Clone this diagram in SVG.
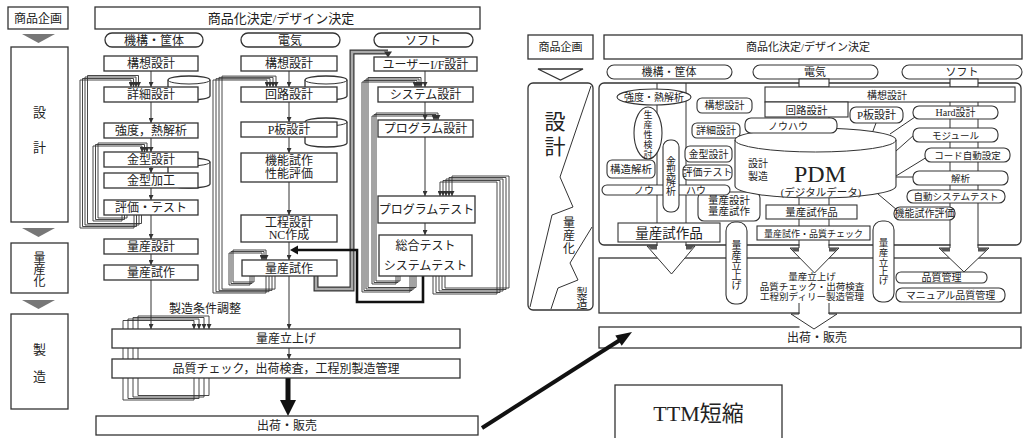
<svg xmlns="http://www.w3.org/2000/svg" width="1026" height="438" viewBox="0 0 1026 438">
<defs>
<style>
.b{fill:#fff;stroke:#333;stroke-width:1.3}
.p{fill:#fff;stroke:#333;stroke-width:1.1}
.l{fill:none;stroke:#333;stroke-width:1}
.f{fill:none;stroke:#333;stroke-width:1;marker-end:url(#ar)}
.s{fill:none;stroke:#333;stroke-width:0.9;marker-end:url(#ar)}
.w{fill:#fff;stroke:none}
.tri{fill:#777}
.sh{fill:#555}
text{font-family:"Liberation Serif","Noto Sans CJK JP",serif;fill:#222;text-anchor:middle}
.t13{font-size:13px}.t12{font-size:12px}.t11{font-size:11px}.t10{font-size:10px}.t9{font-size:9.5px}
</style>
<marker id="ar" viewBox="0 0 8 8" refX="8" refY="4" markerWidth="5" markerHeight="5" markerUnits="userSpaceOnUse" orient="auto"><path d="M0,0L8,4L0,8z" fill="#333"/></marker>
</defs>
<rect x="0" y="0" width="1026" height="438" fill="#fff"/>

<!-- ===== LEFT DIAGRAM ===== -->
<g id="l-phase">
<rect class="b" x="8" y="7" width="60" height="22"/><text class="t12" x="38" y="22.5">商品企画</text>
<polygon class="tri" points="22,34 55,34 38.5,43"/>
<rect class="b" x="11" y="47" width="57" height="175"/><text class="t13" x="39.5" y="117">設</text><text class="t13" x="39.5" y="152">計</text>
<polygon class="tri" points="22,228 55,228 38.5,237"/>
<rect class="b" x="11" y="243" width="57" height="50"/><text class="t12" x="39.5" y="262">量</text><text class="t12" x="39.5" y="274">産</text><text class="t12" x="39.5" y="286">化</text>
<polygon class="tri" points="22,300 55,300 38.5,309"/>
<rect class="b" x="11" y="314" width="57" height="95"/><text class="t13" x="39.5" y="354">製</text><text class="t13" x="39.5" y="381">造</text>
</g>

<g id="connectors-left">
<line class="f" x1="151" y1="71" x2="151" y2="87"/>
<line class="f" x1="151" y1="102" x2="151" y2="123"/>
<line class="f" x1="151" y1="138" x2="151" y2="152"/>
<line class="f" x1="151" y1="167" x2="151" y2="173"/>
<line class="f" x1="151" y1="188" x2="151" y2="200"/>
<line class="f" x1="151" y1="215" x2="151" y2="239"/>
<line class="f" x1="151" y1="254" x2="151" y2="265"/>
<line class="f" x1="151" y1="280" x2="151" y2="329"/>
<line class="f" x1="289" y1="71" x2="289" y2="87"/>
<line class="f" x1="289" y1="102" x2="289" y2="122"/>
<line class="f" x1="289" y1="137" x2="289" y2="153"/>
<line class="f" x1="289" y1="182" x2="289" y2="215"/>
<line class="f" x1="289" y1="242" x2="289" y2="260"/>
<line class="f" x1="289" y1="276" x2="289" y2="329"/>
<line class="f" x1="289" y1="348" x2="289" y2="359"/>
<line class="f" x1="425" y1="71" x2="425" y2="87"/>
<line class="f" x1="425" y1="102" x2="425" y2="120"/>
<line class="f" x1="425" y1="137" x2="425" y2="196"/>
<line class="f" x1="425" y1="223" x2="425" y2="235"/>
<!-- stack A -->
<polyline class="s" points="134,215 134,228 80,228 80,80 131,80 131,87"/>
<polyline class="s" points="136.5,215 136.5,226.5 82.5,226.5 82.5,78.5 133.5,78.5 133.5,87"/>
<polyline class="s" points="139,215 139,225 85,225 85,77 136,77 136,87"/>
<polyline class="s" points="141.5,215 141.5,223.5 87.5,223.5 87.5,75.5 138.5,75.5 138.5,87"/>
<!-- stack B -->
<polyline class="s" points="122,215 122,221 93,221 93,146 142,146 142,152"/>
<polyline class="s" points="124.5,215 124.5,219.5 95.5,219.5 95.5,144.5 144.5,144.5 144.5,152"/>
<polyline class="s" points="127,215 127,218 98,218 98,143 147,143 147,152"/>
<!-- stack C -->
<polyline class="s" points="266,276 266,293 213,293 213,80 267,80 267,87"/>
<polyline class="s" points="269,276 269,291.7 216,291.7 216,78.7 270,78.7 270,87"/>
<polyline class="s" points="272,276 272,290.4 219,290.4 219,77.4 273,77.4 273,87"/>
<polyline class="s" points="275,276 275,289.1 222,289.1 222,76.1 276,76.1 276,87"/>
<!-- stack D -->
<polyline class="s" points="250,276 250,285 229,285 229,253 262,253 262,260"/>
<polyline class="s" points="252,276 252,283.5 231,283.5 231,251.5 264,251.5 264,260"/>
<polyline class="s" points="254,276 254,282 233,282 233,250 266,250 266,260"/>
<!-- stack E (double) -->
<polyline points="316,276 316,289 352,289 352,52 388,52" fill="none" stroke="#333" stroke-width="5"/>
<polyline points="316,276 316,289 352,289 352,52 388,52" fill="none" stroke="#aaa" stroke-width="2.6"/>
<polygon points="384,51.5 392,51.5 388,57.5" fill="#333"/>
<!-- stack F -->
<polyline class="s" points="410,276 410,292 362,292 362,82 415,82 415,87"/>
<polyline class="s" points="412,276 412,290.5 364,290.5 364,80.5 417,80.5 417,87"/>
<polyline class="s" points="414,276 414,289 366,289 366,79 419,79 419,87"/>
<polyline class="s" points="416,276 416,287.5 368,287.5 368,77.5 421,77.5 421,87"/>
<!-- stack G -->
<polyline class="s" points="396,276 396,284 372,284 372,116 434,116 434,120"/>
<polyline class="s" points="398,276 398,282.5 374,282.5 374,114.5 436,114.5 436,120"/>
<polyline class="s" points="400,276 400,281 376,281 376,113 438,113 438,120"/>
<!-- stack H -->
<polyline class="s" points="433,276 433,294 497,294 497,182 440,182 440,196"/>
<polyline class="s" points="436,276 436,292.5 500,292.5 500,180.5 443,180.5 443,196"/>
<polyline class="s" points="439,276 439,291 503,291 503,179 446,179 446,196"/>
<polyline class="s" points="442,276 442,289.5 506,289.5 506,177.5 449,177.5 449,196"/>
<polyline class="s" points="445,276 445,288 509,288 509,176 452,176 452,196"/>
<!-- thick feedback -->
<polyline points="423,276 423,302 357,302 357,250 297,250" fill="none" stroke="#111" stroke-width="2.6"/>
<polygon points="298,245.5 298,254.5 290,250" fill="#111"/>
<!-- stack I -->
<polyline class="s" points="194,378 194,400 123,400 123,320.5 194,320.5 194,329"/>
<polyline class="s" points="199,378 199,398.5 128,398.5 128,319 199,319 199,329"/>
<polyline class="s" points="204,378 204,397 133,397 133,317.5 204,317.5 204,329"/>
<polyline class="s" points="209,378 209,395.5 138,395.5 138,316 209,316 209,329"/>
<text class="t12" x="205" y="313">製造条件調整</text>
<!-- bold arrow -->
<rect x="285.5" y="378" width="5" height="23" fill="#111"/>
<polygon points="280,400 296,400 288,416" fill="#111"/>
</g>

<g id="l-top"><rect class="b" x="95" y="7" width="385" height="22"/><text class="t13" x="281" y="23">商品化決定/デザイン決定</text></g>
<g id="l-h1"><rect class="b" x="105" y="33" width="98" height="14" rx="7"/><text class="t12" x="154" y="44.5">機構・筐体</text></g>
<g id="l-h2"><rect class="b" x="241" y="33" width="99" height="14" rx="7"/><text class="t12" x="290" y="44.5">電気</text></g>
<g id="l-h3"><rect class="b" x="374" y="33" width="99" height="14" rx="7"/><text class="t12" x="423" y="44.5">ソフト</text></g>

<g id="l-cyl1"><path class="b" d="M168,80A21,4 0 0 1 210,80V96A21,4 0 0 1 168,96Z"/><path class="l" d="M168,80A21,4 0 0 0 210,80"/></g>
<g id="l-cyl2"><path class="b" d="M168,162A21,4 0 0 1 210,162V184A21,4 0 0 1 168,184Z"/><path class="l" d="M168,162A21,4 0 0 0 210,162"/></g>
<g id="l-cyl3"><path class="b" d="M305,80A21,4 0 0 1 347,80V96A21,4 0 0 1 305,96Z"/><path class="l" d="M305,80A21,4 0 0 0 347,80"/></g>
<g id="l-cyl4"><path class="b" d="M305,122A21,4 0 0 1 347,122V143A21,4 0 0 1 305,143Z"/><path class="l" d="M305,122A21,4 0 0 0 347,122"/></g>

<g id="m1"><rect class="b" x="104" y="56" width="94" height="15"/><text class="t12" x="151" y="68">構想設計</text></g>
<g id="m2"><rect class="b" x="104" y="87" width="94" height="15"/><text class="t12" x="151" y="99">詳細設計</text></g>
<g id="m3"><rect class="b" x="104" y="123" width="94" height="15"/><text class="t12" x="151" y="135">強度，熱解析</text></g>
<g id="m4"><rect class="b" x="104" y="152" width="94" height="15"/><text class="t12" x="151" y="164">金型設計</text></g>
<g id="m5"><rect class="b" x="104" y="173" width="94" height="15"/><text class="t12" x="151" y="185">金型加工</text></g>
<g id="m6"><rect class="b" x="104" y="200" width="94" height="15"/><text class="t12" x="151" y="212">評価・テスト</text></g>
<g id="m7"><rect class="b" x="104" y="239" width="94" height="15"/><text class="t12" x="151" y="251">量産設計</text></g>
<g id="m8"><rect class="b" x="104" y="265" width="94" height="15"/><text class="t12" x="151" y="277">量産試作</text></g>

<g id="e1"><rect class="b" x="241" y="56" width="96" height="15"/><text class="t12" x="289" y="68">構想設計</text></g>
<g id="e2"><rect class="b" x="241" y="87" width="96" height="15"/><text class="t12" x="289" y="99">回路設計</text></g>
<g id="e3"><rect class="b" x="241" y="122" width="96" height="15"/><text class="t12" x="289" y="134">P板設計</text></g>
<g id="e4"><rect class="b" x="241" y="153" width="96" height="29"/><text class="t12" x="289" y="165">機能試作</text><text class="t12" x="289" y="178">性能評価</text></g>
<g id="e5"><rect class="b" x="241" y="215" width="96" height="27"/><text class="t12" x="289" y="227">工程設計</text><text class="t12" x="289" y="239">NC作成</text></g>
<g id="e6"><rect class="b" x="242" y="260" width="95" height="16"/><text class="t12" x="289" y="272.5">量産試作</text></g>

<g id="s1"><rect class="b" x="374" y="57" width="103" height="14"/><text class="t12" x="425.5" y="68.5">ユーザーI/F設計</text></g>
<g id="s2"><rect class="b" x="378" y="87" width="95" height="15"/><text class="t12" x="425.5" y="99">システム設計</text></g>
<g id="s3"><rect class="b" x="378" y="120" width="95" height="17"/><text class="t12" x="425.5" y="133">プログラム設計</text></g>
<g id="s4"><rect class="b" x="378" y="196" width="97" height="27"/><text class="t12" x="426.5" y="214">プログラムテスト</text></g>
<g id="s5"><rect class="b" x="379" y="235" width="93" height="41"/><text class="t12" x="425.5" y="250">総合テスト</text><text class="t12" x="425.5" y="270">システムテスト</text></g>

<g id="l-ramp"><rect class="b" x="112" y="329" width="348" height="19"/><text class="t12" x="286" y="343">量産立上げ</text></g>
<g id="l-qc"><rect class="b" x="112" y="359" width="348" height="19"/><text class="t12" x="286" y="373">品質チェック，出荷検査，工程別製造管理</text></g>
<g id="l-ship"><rect class="b" x="96" y="416" width="382" height="19"/><text class="t12" x="287" y="430">出荷・販売</text></g>

<!-- ===== RIGHT DIAGRAM ===== -->
<g id="r-plan"><rect class="b" x="528" y="35" width="65" height="24"/><text class="t11" x="560.5" y="51">商品企画</text>
<polygon class="b" points="538,69 583,69 560.5,80"/></g>
<g id="r-top"><rect class="b" x="604" y="35" width="418" height="24"/><text class="t11" x="808" y="51">商品化決定/デザイン決定</text></g>
<g id="r-phase"><rect class="b" x="528" y="83" width="65" height="227" rx="5"/>
<polyline class="l" points="591,86 560,177 573,207 552,215 530,307"/>
<polyline class="l" points="592,227 570,263 578,280 558,288 551,309"/>
<text x="555" y="129" font-size="21">設</text><text x="555" y="154" font-size="21">計</text>
<text class="t12" x="569" y="227">量</text><text class="t12" x="569" y="240">産</text><text class="t12" x="569" y="253">化</text>
<text class="t11" x="582" y="297">製</text><text class="t11" x="582" y="308">造</text></g>

<g id="r-design-region"><rect class="b" x="599" y="83" width="422" height="162" rx="5"/></g>
<g id="r-mfg-region"><rect class="b" x="599" y="258" width="422" height="55"/>
<text class="t9" x="812" y="280">量産立上げ</text><text class="t9" x="812" y="290">品質チェック・出荷検査</text><text class="t9" x="812" y="300">工程別ディリー製造管理</text></g>
<g id="r-ship"><rect class="b" x="599" y="327" width="422" height="21"/><text class="t12" x="817" y="342">出荷・販売</text></g>

<g id="connectors-right">
<rect class="w" x="657.5" y="240" width="28" height="18"/>
<rect class="w" x="799.5" y="240" width="29" height="18"/>
<rect class="w" x="950.5" y="240" width="27" height="18"/>
<rect class="w" x="799.5" y="303" width="29" height="25"/>
<line class="l" x1="657" y1="83" x2="657" y2="246"/><line class="l" x1="686" y1="83" x2="686" y2="246"/>
<line class="l" x1="799" y1="87" x2="799" y2="248"/><line class="l" x1="829" y1="87" x2="829" y2="248"/>
<line class="l" x1="950" y1="87" x2="950" y2="248"/><line class="l" x1="978" y1="87" x2="978" y2="248"/>
<line class="l" x1="799" y1="303" x2="799" y2="314"/><line class="l" x1="829" y1="303" x2="829" y2="314"/>
<polygon class="w" points="647,246 695,246 671.5,274"/><path class="l" d="M657,246H647L671.5,274L695,246H686"/>
<polygon class="sh" points="648,246 657,246 657,249.5 651,249.5"/><polygon class="sh" points="686,246 694,246 691,249.5 686,249.5"/>
<polygon class="w" points="790,248 839,248 814.5,273"/><path class="l" d="M799,248H790L814.5,273L839,248H829"/>
<polygon class="sh" points="791,248 799,248 799,251.5 794,251.5"/><polygon class="sh" points="829,248 838,248 835,251.5 829,251.5"/>
<polygon class="w" points="939,248 989,248 964,272"/><path class="l" d="M950,248H939L964,272L989,248H978"/>
<polygon class="sh" points="940,248 950,248 950,251.5 943,251.5"/><polygon class="sh" points="978,248 988,248 985,251.5 978,251.5"/>
<polygon class="w" points="791,314 837,314 814,329"/><path class="l" d="M799,314H791L814,329L837,314H829"/>
<line class="l" x1="890" y1="134" x2="915" y2="117"/>
<line class="l" x1="896" y1="151" x2="914" y2="135"/>
<line class="l" x1="896" y1="176" x2="927" y2="157"/>
<line class="l" x1="896" y1="177" x2="913" y2="177"/>
<line class="l" x1="878" y1="194" x2="897" y2="210"/>
<line class="l" x1="876" y1="123" x2="873" y2="131"/>
</g>

<g id="r-h1"><rect class="p" x="607" y="65" width="125" height="14" rx="7"/><text class="t11" x="669" y="76">機構・筐体</text></g>
<g id="r-h2"><rect class="p" x="753" y="65" width="125" height="14" rx="7"/><rect class="p" x="799" y="79" width="30" height="8"/><text class="t11" x="815" y="76">電気</text></g>
<g id="r-h3"><rect class="p" x="902" y="65" width="120" height="14" rx="7"/><rect class="p" x="950" y="79" width="28" height="8"/><text class="t11" x="962" y="76">ソフト</text></g>

<g id="r-strength"><ellipse class="p" cx="654" cy="97" rx="37" ry="8"/><text class="t10" x="654" y="100.5">強度・熱解析</text></g>
<g id="r-prod"><ellipse class="p" cx="648" cy="133" rx="14" ry="26"/><text font-size="9"><tspan x="648" y="118">生</tspan><tspan x="648" y="128">産</tspan><tspan x="648" y="138">性</tspan><tspan x="648" y="148">検</tspan><tspan x="648" y="158">討</tspan></text></g>
<g id="r-struct"><rect class="p" x="607" y="160" width="48" height="18" rx="5"/><text font-size="10.5" x="631" y="173">構造解析</text></g>
<g id="r-mk1"><rect class="p" x="697" y="98" width="55" height="15" rx="5"/><text class="t10" x="724.5" y="109">構想設計</text></g>
<g id="r-mk2"><rect class="p" x="692" y="123" width="48" height="15" rx="5"/><text class="t10" x="716" y="134">詳細設計</text></g>
<g id="r-mk3"><rect class="p" x="685" y="146" width="47" height="16" rx="5"/><text class="t10" x="708.5" y="158">金型設計</text></g>
<g id="r-mk4"><rect class="p" x="683" y="165" width="49" height="15" rx="5"/><text class="t10" x="707.5" y="176">評価テスト</text></g>
<g id="r-mk5"><rect class="p" x="698" y="192" width="62" height="29" rx="6"/><text font-size="10.5" x="729" y="204">量産設計</text><text font-size="10.5" x="729" y="215">量産試作</text></g>
<g id="r-knowhow1"><rect class="p" x="602" y="185" width="128" height="10" rx="5"/><text class="t10" x="644" y="193.5">ノウ</text><text class="t10" x="696" y="193.5">ハウ</text></g>
<g id="r-moldana"><rect class="p" x="663" y="140" width="16" height="72" rx="7"/><text class="t10"><tspan x="671" y="165">金</tspan><tspan x="671" y="175">型</tspan><tspan x="671" y="185">解</tspan><tspan x="671" y="195">析</tspan></text></g>
<g id="r-mk6"><rect class="p" x="618" y="223" width="102" height="19"/><text font-size="13.5" x="669" y="237.5">量産試作品</text></g>
<g id="r-ramp1"><rect class="p" x="726" y="222" width="21" height="82" rx="9"/><text class="t10"><tspan x="736.5" y="249">量</tspan><tspan x="736.5" y="259">産</tspan><tspan x="736.5" y="269">立</tspan><tspan x="736.5" y="279">上</tspan><tspan x="736.5" y="289">げ</tspan></text></g>

<g id="r-el1"><rect class="p" x="765" y="87" width="250" height="15"/><text class="t10" x="887" y="98.5">構想設計</text></g>
<g id="r-el2"><rect class="p" x="765" y="102" width="83" height="15"/><text font-size="10.5" x="806.5" y="114">回路設計</text></g>
<g id="r-el3"><rect class="p" x="850" y="107" width="53" height="16" rx="6"/><text class="t11" x="876.5" y="119">P板設計</text></g>
<g id="r-pdm"><path class="p" d="M735,140A80.5,12 0 0 1 896,140V186A80.5,12 0 0 1 735,186Z"/><path class="l" d="M735,140A80.5,12 0 0 0 896,140"/>
<text x="820" y="182" font-size="24">PDM</text><text class="t10" x="758" y="167">設計</text><text class="t10" x="758" y="180">製造</text><text font-size="10.5" x="821" y="196">(デジタルデータ)</text></g>
<g id="r-knowhow2"><rect class="p" x="745" y="118" width="92" height="15" rx="6"/><text class="t10" x="788" y="129.5">ノウハウ</text></g>
<g id="r-el4"><rect class="p" x="766" y="205" width="91" height="14"/><text font-size="10.5" x="811.5" y="216">量産試作品</text></g>
<g id="r-el5"><rect class="p" x="757" y="226" width="113" height="14"/><text font-size="9" x="813.5" y="236.5">量産試作・品質チェック</text></g>

<g id="r-sw1"><rect class="p" x="913" y="106" width="85" height="13" rx="6"/><text class="t10" x="955.5" y="116">Hard設計</text></g>
<g id="r-sw2"><rect class="p" x="913" y="128" width="85" height="14" rx="6"/><text class="t9" x="955.5" y="139">モジュール</text></g>
<g id="r-sw3"><rect class="p" x="925" y="148" width="85" height="14" rx="6"/><text class="t9" x="967.5" y="159">コード自動設定</text></g>
<g id="r-sw4"><rect class="p" x="913" y="171" width="95" height="14" rx="6"/><text class="t9" x="960.5" y="182">解析</text></g>
<g id="r-sw5"><rect class="p" x="907" y="190" width="98" height="13" rx="6"/><text class="t9" x="956" y="200">自動システムテスト</text></g>
<g id="r-sw6"><rect class="p" x="894" y="207" width="61" height="13" rx="6"/><text class="t10" x="924.5" y="217">機能試作評価</text></g>
<g id="r-ramp2"><rect class="p" x="873" y="221" width="21" height="81" rx="9"/><text class="t9"><tspan x="883.5" y="246">量</tspan><tspan x="883.5" y="256">産</tspan><tspan x="883.5" y="266">立</tspan><tspan x="883.5" y="275">上</tspan><tspan x="883.5" y="284">げ</tspan></text></g>
<g id="r-qm"><rect class="p" x="896" y="272" width="91" height="11" rx="5"/><text class="t10" x="941.5" y="281">品質管理</text></g>
<g id="r-mqm"><rect class="p" x="896" y="288" width="109" height="14" rx="6"/><text class="t10" x="950.5" y="299">マニュアル品質管理</text></g>

<g id="ttm"><rect class="b" x="615" y="385" width="167" height="60"/><text x="698.5" y="421" font-size="22">TTM短縮</text></g>

<g id="connector-cross">
<line x1="482" y1="428" x2="620" y2="340" stroke="#111" stroke-width="4"/>
<polygon points="632,332 621.7,345.7 615.3,335.6" fill="#111"/>
</g>
</svg>
